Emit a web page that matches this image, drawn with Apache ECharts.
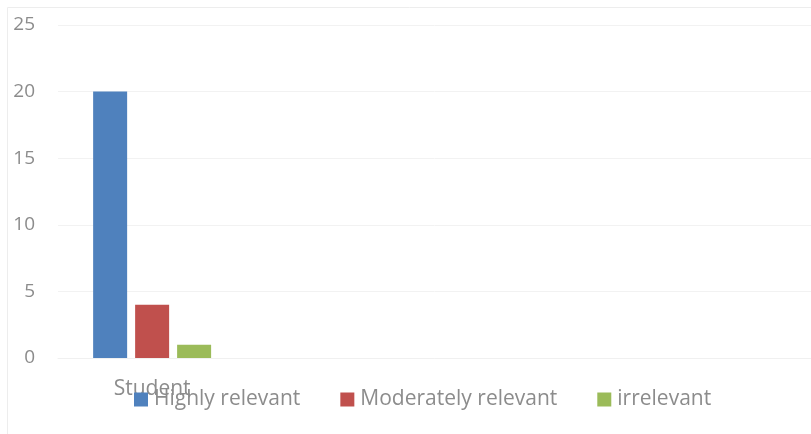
<!DOCTYPE html>
<html><head><meta charset="utf-8">
<script src="https://cdn.jsdelivr.net/npm/echarts@6/dist/echarts.min.js"></script>
<style>html,body{margin:0;padding:0;background:#fff}#c{width:811px;height:434px}</style>
</head><body><div id="c"></div>
<script>
const categories = ["Student", "", "", ""];
const seriesNames = ["Highly relevant", "Moderately relevant", "irrelevant"];
const highly = [20, null, null, null];
const moderately = [4, null, null, null];
const irrelevant = [1, null, null, null];
const yTicks = [0, 5, 10, 15, 20, 25];
const colors = ["#4f81bd", "#c0504d", "#9bbb59"];
const txt = "#8c8c8c";
const font = "'Open Sans', 'Liberation Sans', sans-serif";
const chart = echarts.init(document.getElementById('c'));
const vals = [highly, moderately, irrelevant];
chart.setOption({
  animation: false,
  textStyle: { fontFamily: font },
  graphic: [{ type: 'rect', shape: { x: 7.5, y: 7.5, width: 820, height: 440 }, style: { fill: 'none', stroke: '#ededed', lineWidth: 1 }, silent: true }],
  grid: { left: 58, right: 0, top: 25, bottom: 76, containLabel: false },
  legend: {
    left: 134, top: 389, padding: 0, itemWidth: 14, itemHeight: 14, itemGap: 40,
    icon: 'rect',
    textStyle: { color: txt, fontSize: 21, fontFamily: font, padding: [0, 0, 0, 1] },
    data: seriesNames
  },
  xAxis: {
    type: 'category', data: categories,
    axisLine: { show: true, lineStyle: { color: '#f0f0f0' } },
    axisTick: { show: false },
    axisLabel: { color: txt, fontSize: 21, margin: 21, fontFamily: font }
  },
  yAxis: {
    type: 'value', min: yTicks[0], max: yTicks[yTicks.length - 1], interval: 5,
    axisLine: { show: false }, axisTick: { show: false },
    axisLabel: { color: txt, fontSize: 19, margin: 23, fontFamily: font },
    splitLine: { lineStyle: { color: '#f2f2f2', width: 1 } }
  },
  series: seriesNames.map((n, i) => ({
    name: n, type: 'bar', data: vals[i], barWidth: 34, barGap: '23.5%',
    itemStyle: { color: colors[i] }
  }))
});
</script></body></html>
